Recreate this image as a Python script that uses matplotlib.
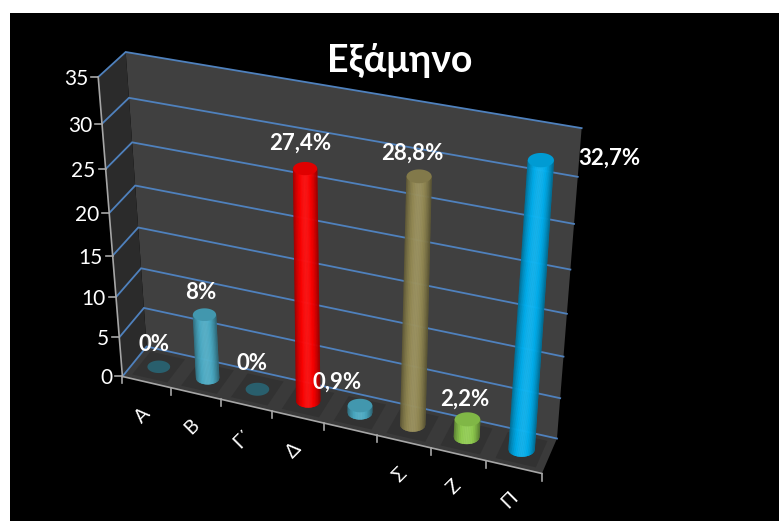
import numpy as np
import matplotlib
matplotlib.use('Agg')
import matplotlib.pyplot as plt
from matplotlib.colors import to_rgb

# Exam data
categories = ['Α', 'Β', 'Γ΄', 'Δ', '', 'Σ', 'Ζ', 'Π']
values = [0, 8, 0, 27.4, 0.9, 28.8, 2.2, 32.7]
labels = ['0%', '8%', '0%', '27,4%', '0,9%', '28,8%', '2,2%', '32,7%']
colors = ['#4bacc6', '#4bacc6', '#4bacc6', '#ff0000', '#4bacc6', '#948a54', '#92d050', '#00b0f0']
yticks = [0, 5, 10, 15, 20, 25, 30, 35]

# label shift from the bar top, in pixels
label_dx = [-5, -4, -5, -5, -23, -7, -3, 68]
label_dy = [-22, -22, -26, -25, -23, -23, -20, -2]

W, H = 779, 521
FONT = ['Lato', 'Noto Sans', 'DejaVu Sans']

# Corners of the 3D box (category, depth, value) -> where they land in pixels
box_3d = [(0, 0, 0), (8, 0, 0), (0, 1, 0), (8, 1, 0),
          (0, 0, 35), (8, 0, 35), (0, 1, 35), (8, 1, 35)]
box_px = [(122, 376), (543, 473), (147, 347), (556, 439),
          (98, 77), (565, 159), (126, 52), (582, 127)]

# Fit a projective camera to those corners
A = []
b = []
for (X, Y, Z), (u, v) in zip(box_3d, box_px):
    A.append([X, Y, Z, 1, 0, 0, 0, 0, -u * X, -u * Y, -u * Z])
    b.append(u)
    A.append([0, 0, 0, 0, X, Y, Z, 1, -v * X, -v * Y, -v * Z])
    b.append(v)
cam = np.linalg.lstsq(np.array(A, float), np.array(b, float), rcond=None)[0]
cam = np.append(cam, 1).reshape(3, 4)


def proj(x, y, z):
    w = cam[2, 0] * x + cam[2, 1] * y + cam[2, 2] * z + cam[2, 3]
    u = (cam[0, 0] * x + cam[0, 1] * y + cam[0, 2] * z + cam[0, 3]) / w
    v = (cam[1, 0] * x + cam[1, 1] * y + cam[1, 2] * z + cam[1, 3]) / w
    return u, v


def face(ax, pts, color, z=1):
    xy = [proj(*p) for p in pts]
    ax.fill(*zip(*xy), color=color, lw=0, zorder=z)


def shade(c, f):
    c = np.array(to_rgb(c))
    if f < 1:
        return tuple(c * f)
    return tuple(c + (1 - c) * (f - 1))


def cylinder(ax, i, value, color, zorder):
    cx, cy = i + 0.5, 0.5
    # soft floor shadow
    face(ax, [(cx - 0.36, cy - 0.38, 0), (cx + 0.36, cy - 0.38, 0),
              (cx + 0.36, cy + 0.38, 0), (cx - 0.36, cy + 0.38, 0)], '#323232', 2)
    ub, vb = proj(cx, cy, 0)
    ut, vt = proj(cx, cy, value)
    rw = (proj(cx + 0.235, cy, 0)[0] - proj(cx - 0.235, cy, 0)[0]) / 2
    rh = rw * 0.55
    t = np.linspace(0, 2 * np.pi, 73)
    if value == 0:
        ax.fill(ub + rw * np.cos(t), vb + rh * np.sin(t), color=shade(color, 0.55), lw=0, zorder=zorder)
        return
    # side as thin strips, dark at the edges and bright just left of the middle
    s = np.linspace(-1, 1, 41)
    for s0, s1 in zip(s[:-1], s[1:]):
        m = (s0 + s1) / 2
        f = 1.08 - 0.42 * abs(m + 0.05) ** 2.2
        if m < 0:
            f -= 0.08 * abs(m)
        h0 = rh * np.sqrt(1 - s0 ** 2)
        h1 = rh * np.sqrt(1 - s1 ** 2)
        xs = [ub + rw * s0, ub + rw * s1, ut + rw * s1, ut + rw * s0]
        ys = [vb + h0, vb + h1, vt, vt]
        ax.fill(xs, ys, color=shade(color, f), ec=shade(color, f), lw=0.3, zorder=zorder)
    # top cap
    ax.fill(ut + rw * np.cos(t), vt + rh * np.sin(t), color=shade(color, 0.88), lw=0, zorder=zorder + 0.1)


fig = plt.figure(figsize=(W / 100, H / 100), dpi=100, facecolor='white')
ax = fig.add_axes([0, 0, 1, 1])
ax.set_xlim(0, W)
ax.set_ylim(H, 0)
ax.axis('off')
ax.fill([10, W, W, 10], [13, 13, H, H], color='black', lw=0, zorder=0)

# walls and floor
face(ax, [(0, 1, 0), (8, 1, 0), (8, 1, 35), (0, 1, 35)], '#404040')
face(ax, [(0, 0, 0), (0, 1, 0), (0, 1, 35), (0, 0, 35)], '#2b2b2b')
face(ax, [(0, 0, 0), (8, 0, 0), (8, 1, 0), (0, 1, 0)], '#3a3a3a')

# gridlines
for t in yticks:
    pts = [proj(0, 0, t), proj(0, 1, t), proj(8, 1, t)]
    ax.plot(*zip(*pts), color='#4f81bd', lw=1.3, zorder=1.5, solid_joinstyle='miter')
    u, v = proj(0, 0, t)
    ax.plot([u - 7, u], [v, v], color='#a6a6a6', lw=1.2, zorder=3)
    ax.text(u - 10, v + 2, str(t), color='white', fontsize=15, family=FONT,
            ha='right', va='center', zorder=5)

# axis lines
ax.plot(*zip(proj(0, 0, 0), proj(0, 0, 35)), color='#a6a6a6', lw=1.2, zorder=3)
ax.plot(*zip(proj(0, 0, 0), proj(8, 0, 0)), color='#a6a6a6', lw=1.2, zorder=3)

for i in range(9):
    u, v = proj(i, 0, 0)
    ax.plot([u, u], [v, v + 7], color='#a6a6a6', lw=1.2, zorder=3)

for i, cat in enumerate(categories):
    u, v = proj(i + 0.5, 0, 0)
    ax.text(u - 4, v + 33, cat, color='white', fontsize=14, family=FONT,
            rotation=45, ha='center', va='center', rotation_mode='anchor', zorder=5)

for i, val in enumerate(values):
    cylinder(ax, i, val, colors[i], 4 + i * 0.2)

for i, (val, lab) in enumerate(zip(values, labels)):
    u, v = proj(i + 0.5, 0.5, val)
    ax.text(u + label_dx[i], v + label_dy[i], lab, color='white', fontsize=16,
            fontweight='bold', family=FONT, ha='center', va='center', zorder=8)

ax.text(400, 60, 'Εξάμηνο', color='white', fontsize=27, fontweight='bold',
        family=FONT, ha='center', va='center', zorder=8)

fig.savefig('out.png', dpi=100, facecolor='white')
